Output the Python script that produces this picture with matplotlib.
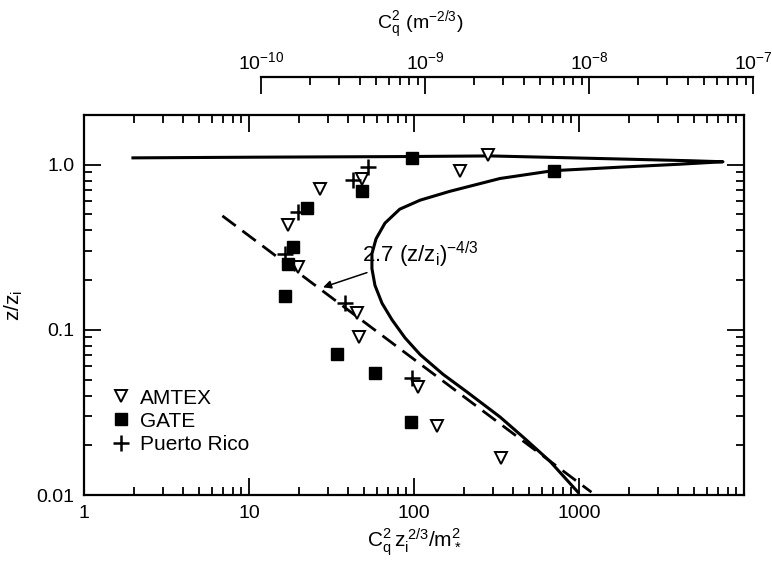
import matplotlib
matplotlib.use("Agg")
import matplotlib.pyplot as plt
from matplotlib.ticker import LogLocator, NullFormatter

plt.rcParams["font.family"] = ["Liberation Sans", "DejaVu Sans"]
plt.rcParams["mathtext.default"] = "regular"

# Solid model curve: top branch to the tip, then lower branch down to the surface
curve_x = [1.98, 10.1, 82, 290, 1340, 4710, 7460,
           4090, 1770, 695, 332, 165, 109, 82, 66.7, 58.9, 55.6, 55.6, 58,
           64, 73.6, 88.2, 109, 150, 210, 332, 471, 667, 986]
curve_y = [1.10, 1.11, 1.12, 1.13, 1.09, 1.057, 1.042,
           1.007, 0.966, 0.92, 0.825, 0.69, 0.61, 0.538, 0.443, 0.356, 0.289,
           0.235, 0.186, 0.145, 0.115, 0.0895, 0.0708, 0.0538, 0.042, 0.0297,
           0.0219, 0.016, 0.0104]

# Dashed line 2.7 (z/zi)^-4/3, end points
dashed_x = [6.9, 1190]
dashed_y = [0.49, 0.0104]

# Observations
amtex_x = [26.9, 48.4, 17.2, 19.8, 45.1, 46.4, 106, 138, 337, 190, 281]
amtex_y = [0.708, 0.82, 0.43, 0.24, 0.126, 0.091, 0.045, 0.026, 0.0167, 0.91, 1.15]

gate_x = [97, 48.4, 22.5, 18.5, 17.2, 16.5, 34.1, 58, 96, 705]
gate_y = [1.10, 0.69, 0.546, 0.318, 0.252, 0.16, 0.071, 0.0545, 0.0277, 0.92]

pr_x = [52.6, 42.7, 19.8, 16.5, 38.2, 97]
pr_y = [0.97, 0.81, 0.52, 0.289, 0.145, 0.051]

fig = plt.figure(figsize=(7.72, 5.62), dpi=100)
ax = fig.add_axes([0.1088, 0.1192, 0.8549, 0.6762])

ax.plot(curve_x, curve_y, color="black", lw=2.2, solid_joinstyle="round")
ax.plot(dashed_x, dashed_y, color="black", lw=2, dashes=(6, 3))

ax.plot(amtex_x, amtex_y, ls="none", marker="v", ms=8, mfc="white",
        mec="black", mew=1.4, label="AMTEX")
ax.plot(gate_x, gate_y, ls="none", marker="s", ms=8, mfc="black",
        mec="black", label="GATE")
ax.plot(pr_x, pr_y, ls="none", marker="+", ms=11, mec="black",
        mew=1.8, label="Puerto Rico")

ax.annotate(r"2.7 $(z/z_i)^{-4/3}$", xy=(28.1, 0.181), xytext=(48.4, 0.285),
            fontsize=16, ha="left", va="center",
            arrowprops=dict(arrowstyle="-|>", color="black", lw=1.1,
                            shrinkA=0, shrinkB=0, mutation_scale=12))

ax.set_xscale("log")
ax.set_yscale("log")
ax.set_xlim(1, 1e4)
ax.set_ylim(0.01, 2.0)

ax.set_xticks([1, 10, 100, 1000], ["1", "10", "100", "1000"])
ax.set_yticks([0.01, 0.1, 1.0], ["0.01", "0.1", "1.0"])
ax.xaxis.set_minor_locator(LogLocator(base=10, subs=range(2, 10)))
ax.yaxis.set_minor_locator(LogLocator(base=10, subs=range(2, 10)))
ax.xaxis.set_minor_formatter(NullFormatter())
ax.yaxis.set_minor_formatter(NullFormatter())
ax.tick_params(which="both", direction="in", top=True, right=True,
               labelsize=14, width=1.3)
ax.tick_params(which="major", length=12, pad=7)
ax.tick_params(which="minor", length=6)
for s in ax.spines.values():
    s.set_linewidth(1.6)

ax.set_xlabel(r"$C_q^2\,z_i^{\,2/3}/m_*^2$", fontsize=15, labelpad=3)
ax.set_ylabel(r"$z/z_i$", fontsize=15, labelpad=8)

ax.legend(loc="upper left", bbox_to_anchor=(0.012, 0.335), frameon=False,
          fontsize=15, handlelength=0.8, handletextpad=0.5,
          labelspacing=0.2, borderaxespad=0.6, numpoints=1)

# Separate top scale for C_q^2
ax2 = fig.add_axes([0.3381, 0.80, 0.6373, 0.063])
ax2.set_xscale("log")
ax2.set_xlim(1e-10, 1e-7)
ax2.patch.set_visible(False)
for name in ["left", "right", "bottom"]:
    ax2.spines[name].set_visible(False)
ax2.spines["top"].set_linewidth(1.6)
ax2.set_yticks([])
ax2.xaxis.set_ticks_position("top")
ax2.xaxis.set_minor_locator(LogLocator(base=10, subs=range(2, 10)))
ax2.xaxis.set_minor_formatter(NullFormatter())
ax2.tick_params(which="both", direction="in", labelsize=14, width=1.3)
ax2.tick_params(which="major", length=12, pad=3)
ax2.tick_params(which="minor", length=6)

fig.text(0.544, 0.955, r"$C_q^2\ (m^{-2/3})$", fontsize=14, ha="center",
         va="center")

fig.savefig("out.png", dpi=100)
